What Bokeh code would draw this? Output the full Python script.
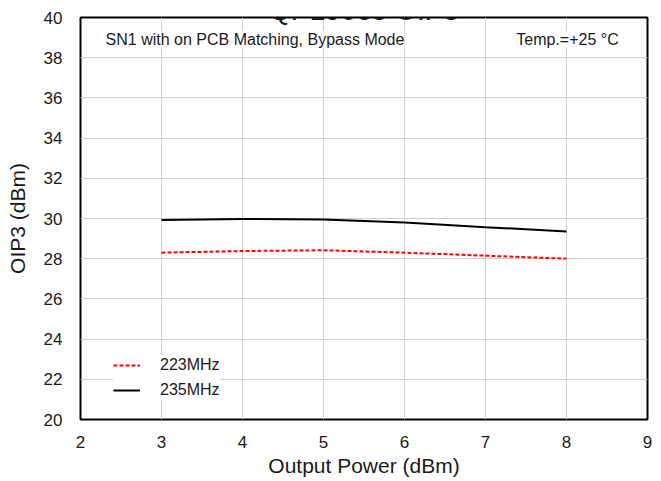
from bokeh.plotting import figure
from bokeh.models import Label, Legend, LegendItem, FixedTicker, Range1d
from bokeh.embed import file_html
from bokeh.resources import INLINE

power = [3, 4, 5, 6, 7, 8]
oip3_223 = [28.3, 28.38, 28.42, 28.3, 28.15, 28.0]
oip3_235 = [29.92, 29.98, 29.95, 29.8, 29.57, 29.35]
x_ticks = [2, 3, 4, 5, 6, 7, 8, 9]
y_ticks = [20, 22, 24, 26, 28, 30, 32, 34, 36, 38, 40]

FONT = "Liberation Sans"
TXT = "#1a1a1a"

p = figure(width=658, height=480, output_backend="svg", toolbar_location=None,
           x_range=Range1d(2, 9), y_range=Range1d(20, 40),
           min_border_left=80, min_border_right=11, min_border_top=17, min_border_bottom=61)

p.outline_line_color = "black"
p.outline_line_width = 2
p.outline_line_alpha = 1

p.xaxis.ticker = FixedTicker(ticks=x_ticks)
p.yaxis.ticker = FixedTicker(ticks=y_ticks)
for ax in (p.xaxis[0], p.yaxis[0]):
    ax.axis_line_color = None
    ax.major_tick_line_color = None
    ax.minor_tick_line_color = None
    ax.major_label_text_font = FONT
    ax.major_label_text_font_size = "17px"
    ax.major_label_text_color = TXT
    ax.axis_label_text_font = FONT
    ax.axis_label_text_font_size = "21px"
    ax.axis_label_text_font_style = "normal"
    ax.axis_label_text_color = TXT
p.xaxis.axis_label = "Output Power (dBm)"
p.yaxis.axis_label = "OIP3 (dBm)"
p.xaxis.major_label_standoff = 10
p.yaxis.major_label_standoff = 12
p.xaxis.axis_label_standoff = 3
p.yaxis.axis_label_standoff = 12

p.xgrid.grid_line_color = "#d0d0d0"
p.ygrid.grid_line_color = "#d0d0d0"
p.xgrid.grid_line_width = 1
p.ygrid.grid_line_width = 1

r1 = p.line(power, oip3_223, line_color="red", line_width=2, line_dash="4 2")
r2 = p.line(power, oip3_235, line_color="black", line_width=2)

legend = Legend(items=[LegendItem(label="223MHz", renderers=[r1]),
                       LegendItem(label="235MHz", renderers=[r2])],
                location=(33, 19))
legend.border_line_color = None
legend.background_fill_color = "white"
legend.background_fill_alpha = 1
legend.label_text_font = FONT
legend.label_text_font_size = "16px"
legend.label_text_color = TXT
legend.glyph_width = 27
legend.label_standoff = 20
legend.glyph_height = 20
legend.spacing = 5
legend.padding = 8
legend.margin = 0
p.add_layout(legend, "center")

title = Label(x=5.5, y=40.35, text="QPL9065 OIP3", text_font=FONT,
              text_font_size="28px", text_align="center", text_baseline="alphabetic",
              text_color=TXT)
p.add_layout(title)

lab1 = Label(x=2.31, y=38.9, text="SN1 with on PCB Matching, Bypass Mode",
             text_font=FONT, text_font_size="16px", text_baseline="middle",
             text_color=TXT, background_fill_color="white")
lab2 = Label(x=7.38, y=38.9, text="Temp.=+25 °C",
             text_font=FONT, text_font_size="16px", text_baseline="middle",
             text_color=TXT, background_fill_color="white")
p.add_layout(lab1)
p.add_layout(lab2)

open("out.html", "w").write(file_html(p, INLINE))
